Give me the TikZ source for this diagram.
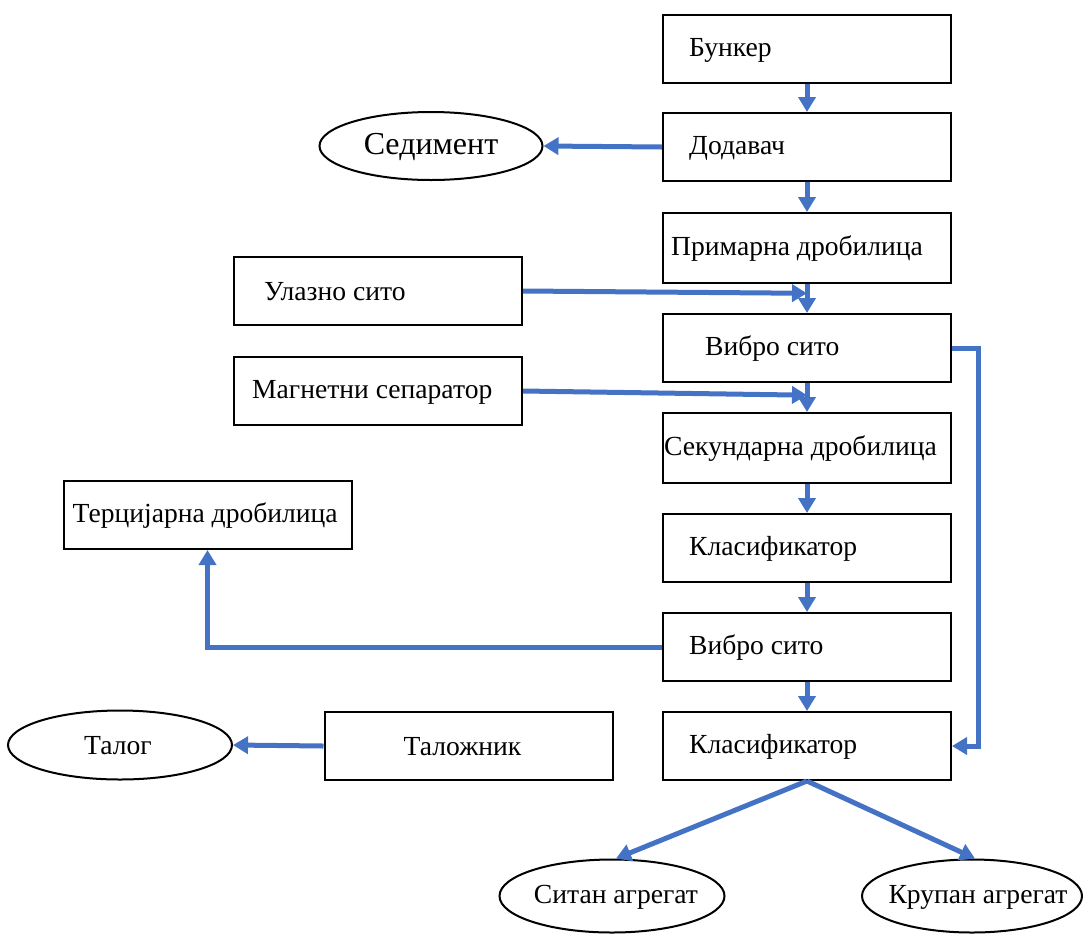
\documentclass[tikz,border=0pt]{standalone}
\usepackage{fontspec}
\setmainfont{Liberation Serif}
\usetikzlibrary{arrows.meta,calc,shapes.geometric}
\definecolor{flowblue}{HTML}{4472C4}
\begin{document}
\begin{tikzpicture}[x=1pt,y=-1pt,
  box/.style={draw=black,line width=2pt,minimum width=288pt,minimum height=68pt,inner sep=0pt},
  tallbox/.style={box,minimum height=70pt},
  oval/.style={draw=black,line width=2pt,ellipse,inner sep=0pt},
  txt/.style={inner sep=0pt,font=\fontsize{27.6}{32}\selectfont},
  lbl/.style={txt,anchor=west},
  flow/.style={draw=flowblue,line width=5pt,-{Triangle[length=15pt,width=17pt]}}
]
\useasboundingbox (0,0) rectangle (1083,938);

% main processing column
\node[box] (bunker) at (807,49) {};
\node[box] (dod) at (807,147) {};
\node[tallbox] (prim) at (807,248) {};
\node[box] (vib1) at (807,348) {};
\node[tallbox] (sek) at (807,448) {};
\node[box] (klas1) at (807,548) {};
\node[box] (vib2) at (807,647) {};
\node[box] (klas2) at (807,746) {};

\node[lbl] at ([xshift=27pt,yshift=-1pt]bunker.west) {Бункер};
\node[lbl] at ([xshift=27pt,yshift=-1pt]dod.west) {Додавач};
\node[lbl] at ([xshift=9pt,yshift=-1pt]prim.west) {Примарна дробилица};
\node[lbl] at ([xshift=43pt,yshift=-1pt]vib1.west) {Вибро сито};
\node[lbl] at ([xshift=2pt,yshift=-1pt]sek.west) {Секундарна дробилица};
\node[lbl] at ([xshift=27pt,yshift=-1pt]klas1.west) {Класификатор};
\node[lbl] at ([xshift=27pt,yshift=-1pt]vib2.west) {Вибро сито};
\node[lbl] at ([xshift=27pt,yshift=-1pt]klas2.west) {Класификатор};

% side units
\node[box] (ulaz) at (378,291) {};
\node[box] (magn) at (378,391) {};
\node[box] (terc) at (207.5,515) {};
\node[box] (talozh) at (468.5,746) {};

\node[lbl] at ([xshift=31pt,yshift=-1pt]ulaz.west) {Улазно сито};
\node[lbl] at ([xshift=19pt,yshift=-1pt]magn.west) {Магнетни сепаратор};
\node[lbl] at ([xshift=10pt,yshift=-1pt]terc.west) {Терцијарна дробилица};
\node[lbl] at ([xshift=80pt,yshift=-1pt]talozh.west) {Таложник};

% outputs (outline and text set separately so the outline keeps its size)
\node[oval,minimum width=223pt,minimum height=68pt] (sed) at (431,146) {};
\node[oval,minimum width=224pt,minimum height=69pt] (talog) at (120,745) {};
\node[oval,minimum width=225pt,minimum height=73pt] (sitan) at (612,896) {};
\node[oval,minimum width=220pt,minimum height=73pt] (krupan) at (972,896) {};

\node[txt,font=\fontsize{32}{37}\selectfont] at ([yshift=-1pt]sed) {Седимент};
\node[txt] at ([xshift=-2pt,yshift=-1pt]talog) {Талог};
\node[txt] at ([xshift=4pt,yshift=-1pt]sitan) {Ситан агрегат};
\node[txt] at ([xshift=6pt,yshift=-1pt]krupan) {Крупан агрегат};

% junction points on the main line
\coordinate (j1) at ($(prim.south)!0.32!(vib1.north)$);
\coordinate (j2) at ($(vib1.south)!0.42!(sek.north)$);

% flow connectors
\draw[flow] (bunker) -- (dod);
\draw[flow] (dod) -- (prim);
\draw[flow] (prim) -- (vib1);
\draw[flow] (vib1) -- (sek);
\draw[flow] (sek) -- (klas1);
\draw[flow] (klas1) -- (vib2);
\draw[flow] (vib2) -- (klas2);
\draw[flow] (dod.west) -- (sed.east);
\draw[flow] (ulaz.east) -- (j1);
\draw[flow] (magn.east) -- (j2);
\draw[flow] (vib1.east) -- ++(26,0) |- (klas2.east);
\draw[flow] (vib2.west) -| (terc.south);
\draw[flow] (talozh.west) -- (talog.east);
\draw[flow] (klas2.south) -- ([xshift=4pt]sitan.north);
\draw[flow] (klas2.south) -- ([xshift=3pt]krupan.north);
\end{tikzpicture}
\end{document}
